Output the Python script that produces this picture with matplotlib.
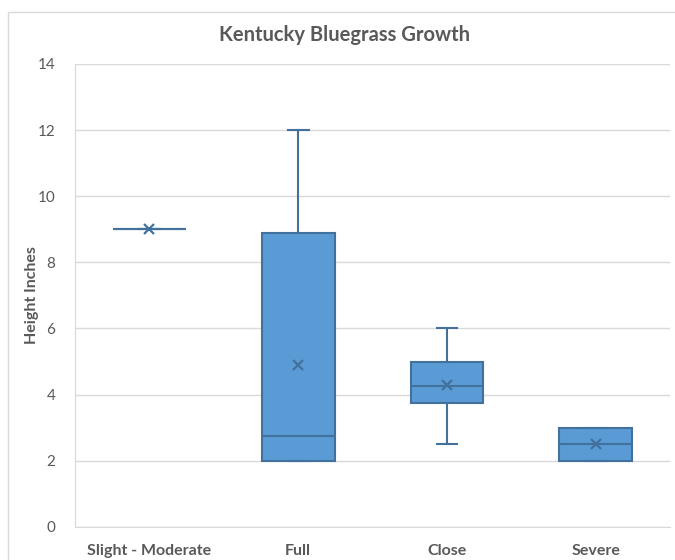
import matplotlib.pyplot as plt
from matplotlib.patches import Rectangle

# Five-number summaries plus mean for each mowing treatment
categories = ["Slight - Moderate", "Full", "Close", "Severe"]
mins = [9, 2, 2.5, 2]
q1s = [9, 2, 3.75, 2]
medians = [9, 2.75, 4.25, 2.5]
q3s = [9, 8.9, 5, 3]
maxs = [9, 12, 6, 3]
means = [9, 4.9, 4.3, 2.5]

fill = "#5B9BD5"
edge = "#41719C"
text_col = "#595959"

plt.rcParams['font.family'] = ['Lato', 'DejaVu Sans']

stats = []
for lab, lo, a, m, b, hi, mu in zip(categories, mins, q1s, medians, q3s, maxs, means):
    stats.append({'label': lab, 'whislo': lo, 'q1': a, 'med': m, 'q3': b,
                  'whishi': hi, 'mean': mu, 'fliers': []})

fig = plt.figure(figsize=(6.75, 5.6), dpi=100)
ax = fig.add_axes([0.111, 0.059, 0.882, 0.827])

# light frame around the chart area
fig.patches.append(Rectangle((8 / 675, -0.1), 1.2, 1 - 12 / 560 + 0.1,
                             transform=fig.transFigure, fill=False,
                             edgecolor="#D9D9D9", linewidth=1))

ax.bxp(stats, positions=range(len(categories)), widths=0.49, capwidths=0.14,
       patch_artist=True, showmeans=True, showfliers=False,
       boxprops=dict(facecolor=fill, edgecolor=edge, linewidth=1.5),
       medianprops=dict(color=edge, linewidth=1.5),
       whiskerprops=dict(color=edge, linewidth=1.5),
       capprops=dict(color=edge, linewidth=1.5),
       meanprops=dict(marker='x', markeredgecolor=edge, markersize=7,
                      markeredgewidth=1.6))

ax.set_xlim(-0.5, len(categories) - 0.5)
ax.set_ylim(0, 14)
ax.set_yticks(range(0, 15, 2))
ax.yaxis.grid(True, color="#D9D9D9", linewidth=1)
ax.set_axisbelow(True)

for side in ['top', 'right']:
    ax.spines[side].set_visible(False)
ax.spines['left'].set_color("#D9D9D9")
ax.spines['bottom'].set_color("#D9D9D9")

ax.tick_params(axis='both', length=0, colors=text_col, labelsize=11)
ax.tick_params(axis='y', pad=14)
ax.tick_params(axis='x', pad=12)
for t in ax.get_xticklabels():
    t.set_fontweight('bold')
    t.set_fontsize(11.5)

ax.set_ylabel("Height Inches", color=text_col, fontsize=11.5, fontweight='bold',
              labelpad=-1)
fig.suptitle("Kentucky Bluegrass Growth", x=0.51, y=0.955, color=text_col,
             fontsize=14.5, fontweight='bold')

fig.savefig("out.png", dpi=100)
